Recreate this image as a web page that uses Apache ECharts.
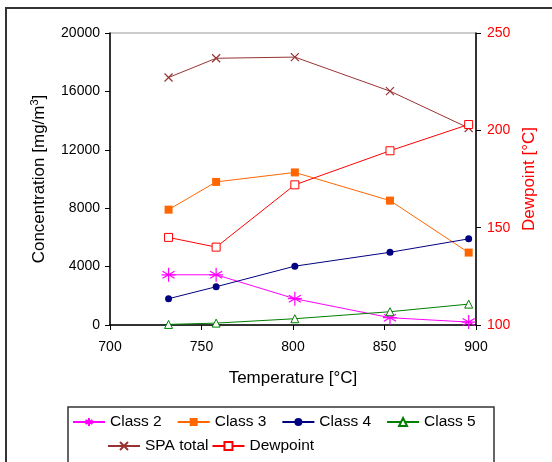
<!DOCTYPE html>
<html>
<head>
<meta charset="utf-8">
<script src="https://cdn.jsdelivr.net/npm/echarts@6/dist/echarts.min.js"></script>
<style>
  html, body { margin: 0; padding: 0; background: #fff; }
  #chart { width: 552px; height: 462px; }
</style>
</head>
<body>
<div id="chart"></div>
<script>
// temperatures of the five runs
var temps = [732, 758, 801, 853, 896];

var class2 = [3440, 3440, 1800, 500, 200];
var class3 = [7900, 9800, 10450, 8520, 4960];
var class4 = [1800, 2620, 4030, 4980, 5900];
var class5 = [40, 130, 430, 910, 1430];
var spaTotal = [16950, 18270, 18350, 16020, 13490];
var dewpoint = [145, 140, 172, 189.5, 203];

var xTicks = [700, 900, 50];
var leftTicks = [0, 20000, 4000];
var rightTicks = [100, 250, 50];

function pairs(vals) {
  return vals.map(function (v, i) { return [temps[i], v]; });
}

var asterisk = 'path://M0,-10L0,10M-8.66,-5L8.66,5M-8.66,5L8.66,-5M-10,0L10,0';
var cross = 'path://M-7,-7L7,7M-7,7L7,-7';

function plain(v) { return String(v); }

function DisplayChart(idDiv) {
  var myChart = echarts.init(document.getElementById(idDiv));
  var font = 'Liberation Sans, Arial, sans-serif';

  var option = {
    animation: false,
    textStyle: { fontFamily: font },
    grid: {
      left: 110, right: 76, top: 33, bottom: 137,
      show: true, borderColor: '#999', borderWidth: 1
    },
    xAxis: {
      type: 'value',
      min: xTicks[0], max: xTicks[1], interval: xTicks[2],
      splitLine: { show: false },
      axisLine: { onZero: false, lineStyle: { color: '#000', width: 1.5 } },
      axisTick: { length: 5, lineStyle: { color: '#000' } },
      axisLabel: { color: '#000', fontSize: 14, margin: 15, fontFamily: font, formatter: plain },
      name: 'Temperature [°C]',
      nameLocation: 'middle',
      nameGap: 45,
      nameTextStyle: { color: '#000', fontSize: 17, fontFamily: font }
    },
    yAxis: [
      {
        type: 'value',
        min: leftTicks[0], max: leftTicks[1], interval: leftTicks[2],
        splitLine: { show: false },
        axisLine: { show: true, lineStyle: { color: '#000', width: 1.5 } },
        axisTick: { show: true, length: 5, lineStyle: { color: '#000' } },
        axisLabel: { color: '#000', fontSize: 14, margin: 10, fontFamily: font, formatter: plain },
        name: 'Concentration [mg/m{sup|3}]',
        nameLocation: 'middle',
        nameGap: 61,
        nameRotate: 90,
        nameTextStyle: {
          color: '#000', fontSize: 17, fontFamily: font,
          rich: { sup: { fontSize: 11, verticalAlign: 'top', padding: [0, 0, 9, 0], color: '#000' } }
        }
      },
      {
        type: 'value',
        position: 'right',
        min: rightTicks[0], max: rightTicks[1], interval: rightTicks[2],
        splitLine: { show: false },
        axisLine: { show: true, lineStyle: { color: '#000', width: 1.5 } },
        axisTick: { show: true, length: 5, lineStyle: { color: '#000' } },
        axisLabel: { color: '#ff0000', fontSize: 14, margin: 11, fontFamily: font },
        name: 'Dewpoint [°C]',
        nameLocation: 'middle',
        nameGap: 45,
        nameRotate: 90,
        nameTextStyle: { color: '#ff0000', fontSize: 17, fontFamily: font }
      }
    ],
    legend: [
      {
        data: ['Class 2', 'Class 3', 'Class 4', 'Class 5'],
        left: 72, top: 414, padding: 0,
        itemWidth: 32, itemHeight: 10, itemGap: 15,
        textStyle: { fontSize: 15.5, color: '#000', fontFamily: font }
      },
      {
        data: ['SPA total', 'Dewpoint'],
        left: 107, top: 438, padding: 0,
        itemWidth: 32, itemHeight: 10, itemGap: 3,
        textStyle: { fontSize: 15.5, color: '#000', fontFamily: font }
      }
    ],
    graphic: [
      { type: 'rect', shape: { x: 6, y: 8, width: 600, height: 500 },
        style: { fill: 'none', stroke: '#333', lineWidth: 2 }, silent: true },
      { type: 'rect', shape: { x: 68, y: 407, width: 426, height: 80 },
        style: { fill: 'none', stroke: '#333', lineWidth: 1.5 }, silent: true }
    ],
    series: [
      {
        name: 'Class 2', type: 'line', data: pairs(class2),
        symbol: asterisk, symbolSize: 14,
        lineStyle: { color: '#ff00ff', width: 1 },
        itemStyle: { color: '#ff00ff', borderColor: '#ff00ff', borderWidth: 1.2 }
      },
      {
        name: 'Class 3', type: 'line', data: pairs(class3),
        symbol: 'rect', symbolSize: 8,
        lineStyle: { color: '#ff6600', width: 1 },
        itemStyle: { color: '#ff6600' }
      },
      {
        name: 'Class 4', type: 'line', data: pairs(class4),
        symbol: 'circle', symbolSize: 7,
        lineStyle: { color: '#000080', width: 1 },
        itemStyle: { color: '#000080' }
      },
      {
        name: 'Class 5', type: 'line', data: pairs(class5),
        symbol: 'triangle', symbolSize: 8,
        lineStyle: { color: '#008000', width: 1 },
        itemStyle: { color: '#fff', borderColor: '#008000', borderWidth: 1 }
      },
      {
        name: 'SPA total', type: 'line', data: pairs(spaTotal),
        symbol: cross, symbolSize: 8,
        lineStyle: { color: '#993333', width: 1 },
        itemStyle: { color: '#993333', borderColor: '#993333', borderWidth: 1.2 }
      },
      {
        name: 'Dewpoint', type: 'line', yAxisIndex: 1, data: pairs(dewpoint),
        symbol: 'rect', symbolSize: 8,
        lineStyle: { color: '#ff0000', width: 1 },
        itemStyle: { color: '#fff', borderColor: '#ff0000', borderWidth: 1 }
      }
    ]
  };

  myChart.setOption(option);
}

DisplayChart('chart');
</script>
</body>
</html>
